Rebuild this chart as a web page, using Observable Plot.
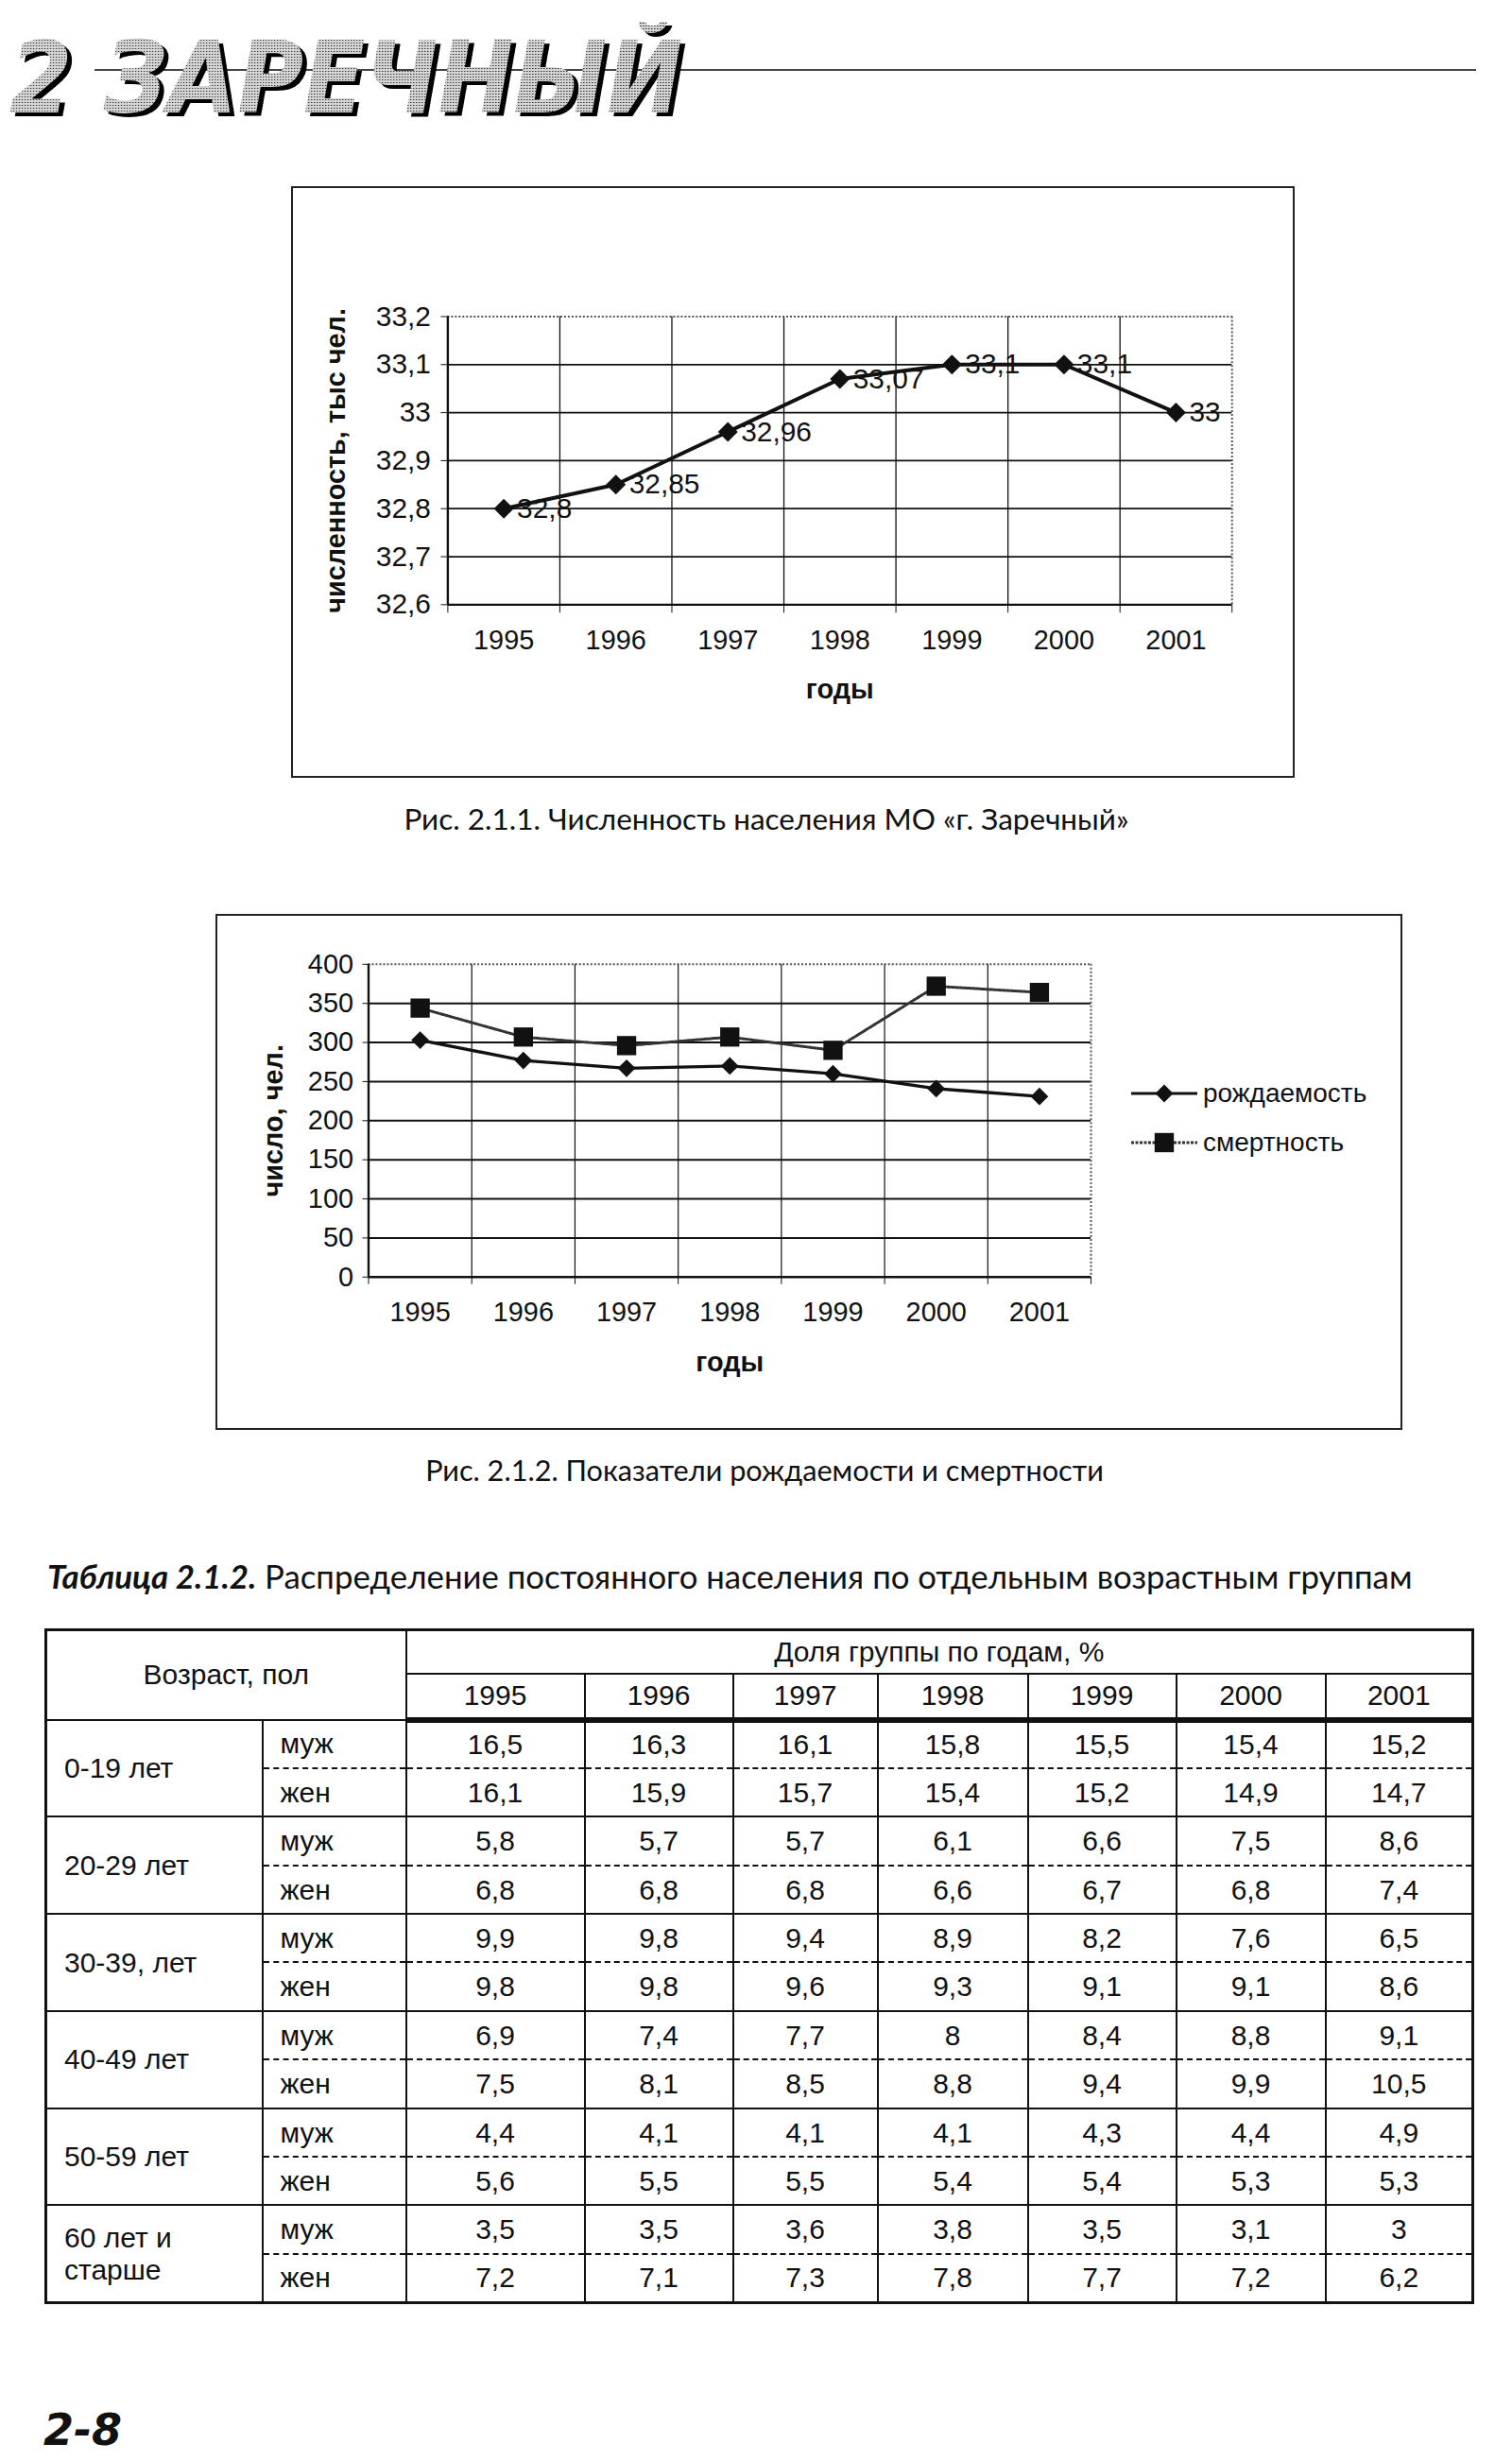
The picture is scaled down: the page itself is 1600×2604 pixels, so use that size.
<!DOCTYPE html>
<html lang="ru"><head><meta charset="utf-8">
<script src="https://cdn.jsdelivr.net/npm/d3@7"></script>
<script src="https://cdn.jsdelivr.net/npm/@observablehq/plot@0.6"></script>
<style>
html,body{margin:0;padding:0;background:#fff;}
body{width:1600px;height:2604px;position:relative;overflow:hidden;color:#111;font-family:"Liberation Sans",Arial,sans-serif;}
.box{position:absolute;border:2px solid #222;box-sizing:border-box;background:#fff;}
.box svg{position:absolute;left:0;top:0;}
.hdr{position:absolute;left:10px;top:23px;font-family:"DejaVu Sans Condensed","DejaVu Sans",sans-serif;font-weight:bold;font-style:italic;font-size:106px;line-height:120px;white-space:nowrap;transform-origin:0 0;
  color:transparent;background:radial-gradient(circle,#3a3a3a 38%,transparent 46%) 0 0/3px 3px, #d4d4d4;-webkit-background-clip:text;background-clip:text;
  filter:drop-shadow(5px 4px 0 #000);}
.hdrline{position:absolute;left:100px;top:73px;width:1462px;height:2px;background:#444;}
.cap{position:absolute;font-family:"Lato","Noto Sans",sans-serif;white-space:nowrap;line-height:1;transform:translate(-50%,-50%);color:#111;}
.ttl{position:absolute;left:50px;font-family:"Lato","Noto Sans",sans-serif;white-space:nowrap;line-height:1;transform:translateY(-50%);color:#111;}
.ttl b{font-style:italic;font-weight:bold;}
.legend{position:absolute;font-size:28px;}
.legend .item{position:absolute;display:flex;align-items:center;white-space:nowrap;transform:translateY(-50%);}
table.t{position:absolute;left:47px;top:1723px;border-collapse:collapse;table-layout:fixed;font-size:30px;border:3px solid #111;}
table.t td{border:2.5px solid #111;padding:0;text-align:center;vertical-align:middle;white-space:pre-line;line-height:1.12;}
table.t td.lbl{text-align:left;padding-left:18px;}
table.t tr.h2 td{border-bottom:6px solid #111;}
table.t tr.m td.v, table.t tr.m td.s{border-bottom:2px dashed #111;}
table.t tr.f td.v, table.t tr.f td.s{border-top:2px dashed #111;}
.foot{position:absolute;left:46px;top:2548px;font-family:"DejaVu Sans","Liberation Sans",sans-serif;font-weight:bold;font-style:italic;font-size:46px;line-height:46px;}
</style></head>
<body>
<script>
// ---------- data ----------
const years = ["1995", "1996", "1997", "1998", "1999", "2000", "2001"];
const population = [32.8, 32.85, 32.96, 33.07, 33.1, 33.1, 33.0];
const popTicks = [32.6, 32.7, 32.8, 32.9, 33.0, 33.1, 33.2];
const births = [303, 277, 267, 270, 260, 241, 231];
const deaths = [344, 307, 296, 307, 290, 372, 364];
const countTicks = [0, 50, 100, 150, 200, 250, 300, 350, 400];
const seriesNames = ["рождаемость", "смертность"];
const ageGroups = ["0-19 лет", "20-29 лет", "30-39, лет", "40-49 лет", "50-59 лет", "60 лет и\nстарше"];
const sexes = ["муж", "жен"];
const sharesMale = [
  [16.5, 16.3, 16.1, 15.8, 15.5, 15.4, 15.2],
  [5.8, 5.7, 5.7, 6.1, 6.6, 7.5, 8.6],
  [9.9, 9.8, 9.4, 8.9, 8.2, 7.6, 6.5],
  [6.9, 7.4, 7.7, 8, 8.4, 8.8, 9.1],
  [4.4, 4.1, 4.1, 4.1, 4.3, 4.4, 4.9],
  [3.5, 3.5, 3.6, 3.8, 3.5, 3.1, 3]
];
const sharesFemale = [
  [16.1, 15.9, 15.7, 15.4, 15.2, 14.9, 14.7],
  [6.8, 6.8, 6.8, 6.6, 6.7, 6.8, 7.4],
  [9.8, 9.8, 9.6, 9.3, 9.1, 9.1, 8.6],
  [7.5, 8.1, 8.5, 8.8, 9.4, 9.9, 10.5],
  [5.6, 5.5, 5.5, 5.4, 5.4, 5.3, 5.3],
  [7.2, 7.1, 7.3, 7.8, 7.7, 7.2, 6.2]
];
const texts = {
  header: "2 ЗАРЕЧНЫЙ",
  yTitle1: "численность, тыс чел.",
  yTitle2: "число, чел.",
  xTitle: "годы",
  cap1: "Рис. 2.1.1. Численность населения МО «г. Заречный»",
  cap2: "Рис. 2.1.2. Показатели рождаемости и смертности",
  tblLead: "Таблица 2.1.2.",
  tblTitle: " Распределение постоянного населения по отдельным возрастным группам",
  ageHead: "Возраст, пол",
  shareHead: "Доля группы по годам, %",
  page: "2-8"
};
</script>
<script>
const fmt = v => String(v).replace(".", ",");
const yearNums = years.map(Number);
const bounds = d3.range(years.length + 1).map(i => yearNums[0] - 0.5 + i);
const body = d3.select("body");
const style = {fontFamily: '"Liberation Sans", Arial, sans-serif', fontSize: "29px", color: "#111", background: "transparent", overflow: "visible"};
const dotted = {stroke: "#555", strokeWidth: 2, strokeDasharray: "2,2"};
const solid = {stroke: "#111", strokeWidth: 2.4};

// ---------- header ----------
body.append("div").attr("class", "hdrline");
const hf = body.append("div").attr("class", "hdr").text(texts.header);

// ---------- chart 1 ----------
const popData = yearNums.map((y, i) => ({year: y, value: population[i]}));
const box1 = body.append("div").attr("class", "box").style("left", "308px").style("top", "197px").style("width", "1062px").style("height", "626px");
const c1 = Plot.plot({
  width: 1062, height: 626,
  marginLeft: 164, marginRight: 65, marginTop: 136, marginBottom: 184,
  x: {domain: [bounds[0], bounds[bounds.length - 1]]},
  y: {domain: [popTicks[0], popTicks[popTicks.length - 1]]},
  style,
  marks: [
    Plot.ruleX(bounds.slice(1, -1), {stroke: "#111", strokeWidth: 1.3}),
    Plot.ruleY(popTicks.slice(1, -1), {stroke: "#111", strokeWidth: 1.8}),
    Plot.ruleY(popTicks.slice(-1), dotted),
    Plot.ruleX(bounds.slice(-1), dotted),
    Plot.ruleX(bounds.slice(0, 1), solid),
    Plot.ruleY(popTicks.slice(0, 1), solid),
    Plot.axisY({ticks: popTicks, tickFormat: fmt, tickSize: 7, tickPadding: 11, label: null, fontSize: 30}),
    Plot.axisX({ticks: bounds, tickFormat: () => "", tickSize: 9, label: null}),
    Plot.axisX({ticks: yearNums, tickFormat: d => String(d), tickSize: 0, tickPadding: 27, label: null, fontSize: 29}),
    Plot.line(popData, {x: "year", y: "value", stroke: "#111", strokeWidth: 4}),
    Plot.dot(popData, {x: "year", y: "value", symbol: "diamond2", r: 9.5, fill: "#111", stroke: "none"}),
    Plot.text(popData, {x: "year", y: "value", text: d => fmt(d.value), dx: 14, textAnchor: "start", fontSize: 30}),
    Plot.text([texts.yTitle1], {frameAnchor: "left", rotate: -90, dx: -119, textAnchor: "middle", fontWeight: "bold"}),
    Plot.text([texts.xTitle], {frameAnchor: "bottom", dy: 100, fontWeight: "bold"})
  ]
});
box1.node().appendChild(c1);
body.append("div").attr("class", "cap cap1").style("left", "811px").style("top", "867px").style("font-size", "28px").text(texts.cap1);

// ---------- chart 2 ----------
const birthData = yearNums.map((y, i) => ({year: y, value: births[i]}));
const deathData = yearNums.map((y, i) => ({year: y, value: deaths[i]}));
const box2 = body.append("div").attr("class", "box").style("left", "228px").style("top", "967px").style("width", "1256px").style("height", "546px");
const c2 = Plot.plot({
  width: 1256, height: 546,
  marginLeft: 160, marginRight: 329, marginTop: 51, marginBottom: 163,
  x: {domain: [bounds[0], bounds[bounds.length - 1]]},
  y: {domain: [countTicks[0], countTicks[countTicks.length - 1]]},
  style,
  marks: [
    Plot.ruleX(bounds.slice(1, -1), {stroke: "#111", strokeWidth: 1.2}),
    Plot.ruleY(countTicks.slice(1, -1), {stroke: "#111", strokeWidth: 2}),
    Plot.ruleY(countTicks.slice(-1), dotted),
    Plot.ruleX(bounds.slice(-1), dotted),
    Plot.ruleX(bounds.slice(0, 1), solid),
    Plot.ruleY(countTicks.slice(0, 1), solid),
    Plot.axisY({ticks: countTicks, tickFormat: d => String(d), tickSize: 6, tickPadding: 10, label: null}),
    Plot.axisX({ticks: bounds, tickFormat: () => "", tickSize: 8, label: null}),
    Plot.axisX({ticks: yearNums, tickFormat: d => String(d), tickSize: 0, tickPadding: 26, label: null}),
    Plot.line(deathData, {x: "year", y: "value", stroke: "#333", strokeWidth: 3, strokeDasharray: "3,1.5"}),
    Plot.dot(deathData, {x: "year", y: "value", symbol: "square", r: 11.5, fill: "#111", stroke: "none"}),
    Plot.line(birthData, {x: "year", y: "value", stroke: "#111", strokeWidth: 3.4}),
    Plot.dot(birthData, {x: "year", y: "value", symbol: "diamond2", r: 8.5, fill: "#111", stroke: "none"}),
    Plot.text([texts.yTitle2], {frameAnchor: "left", rotate: -90, dx: -101, textAnchor: "middle", fontWeight: "bold"}),
    Plot.text([texts.xTitle], {frameAnchor: "bottom", dy: 100, fontWeight: "bold"})
  ]
});
box2.node().appendChild(c2);

// legend
const legend = body.append("div").attr("class", "legend").style("left", "1197px").style("top", "0px");
const legendDefs = [
  {name: seriesNames[0], sym: d3.symbolDiamond2, size: Math.PI * 8.5 * 8.5, dash: null, top: 1157},
  {name: seriesNames[1], sym: d3.symbolSquare, size: Math.PI * 11.5 * 11.5, dash: "3,1.5", top: 1209}
];
legendDefs.forEach(d => {
  const it = legend.append("div").attr("class", "item").style("top", d.top + "px").style("left", "0px");
  const sv = it.append("svg").attr("width", 70).attr("height", 32);
  sv.append("line").attr("x1", 0).attr("x2", 70).attr("y1", 16).attr("y2", 16)
    .attr("stroke", d.dash ? "#333" : "#111").attr("stroke-width", 3).attr("stroke-dasharray", d.dash);
  sv.append("path").attr("transform", "translate(35,16)").attr("d", d3.symbol(d.sym, d.size)()).attr("fill", "#111");
  it.append("span").style("margin-left", "6px").text(d.name);
});
body.append("div").attr("class", "cap cap2").style("left", "809px").style("top", "1556px").style("font-size", "28px").text(texts.cap2);

// ---------- table ----------
const tt = body.append("div").attr("class", "ttl").style("top", "1668px").style("font-size", "30px");
tt.append("b").text(texts.tblLead);
tt.append("span").text(texts.tblTitle);

const colW = [229, 152, 189, 157, 153, 159, 157, 158, 156];
const table = body.append("table").attr("class", "t");
const cg = table.append("colgroup");
colW.forEach(w => cg.append("col").style("width", w + "px"));
const tb = table.append("tbody");
const h1 = tb.append("tr").style("height", "46px");
h1.append("td").attr("rowspan", 2).attr("colspan", 2).text(texts.ageHead);
h1.append("td").attr("colspan", years.length).text(texts.shareHead);
const h2 = tb.append("tr").attr("class", "h2").style("height", "49px");
years.forEach(y => h2.append("td").text(y));
ageGroups.forEach((g, gi) => {
  [sharesMale[gi], sharesFemale[gi]].forEach((vals, si) => {
    const tr = tb.append("tr").attr("class", si === 0 ? "m" : "f").style("height", "51.4px");
    if (si === 0) tr.append("td").attr("rowspan", 2).attr("class", "lbl").text(g);
    tr.append("td").attr("class", "lbl s").text(sexes[si]);
    vals.forEach(v => tr.append("td").attr("class", "v").text(fmt(v)));
  });
});

body.append("div").attr("class", "foot").text(texts.page);

// ---------- fit text widths ----------
function fitW(sel, target) {
  const el = sel.node();
  const w = el.getBoundingClientRect().width;
  const fs = parseFloat(getComputedStyle(el).fontSize);
  sel.style("font-size", (fs * target / w) + "px");
}
fitW(d3.select(".cap1"), 767);
fitW(d3.select(".cap2"), 718);
fitW(tt, 1445);
{
  const el = hf.node();
  const w = el.getBoundingClientRect().width;
  el.style.transform = `scaleX(${712 / w})`;
}
</script>
</body></html>
